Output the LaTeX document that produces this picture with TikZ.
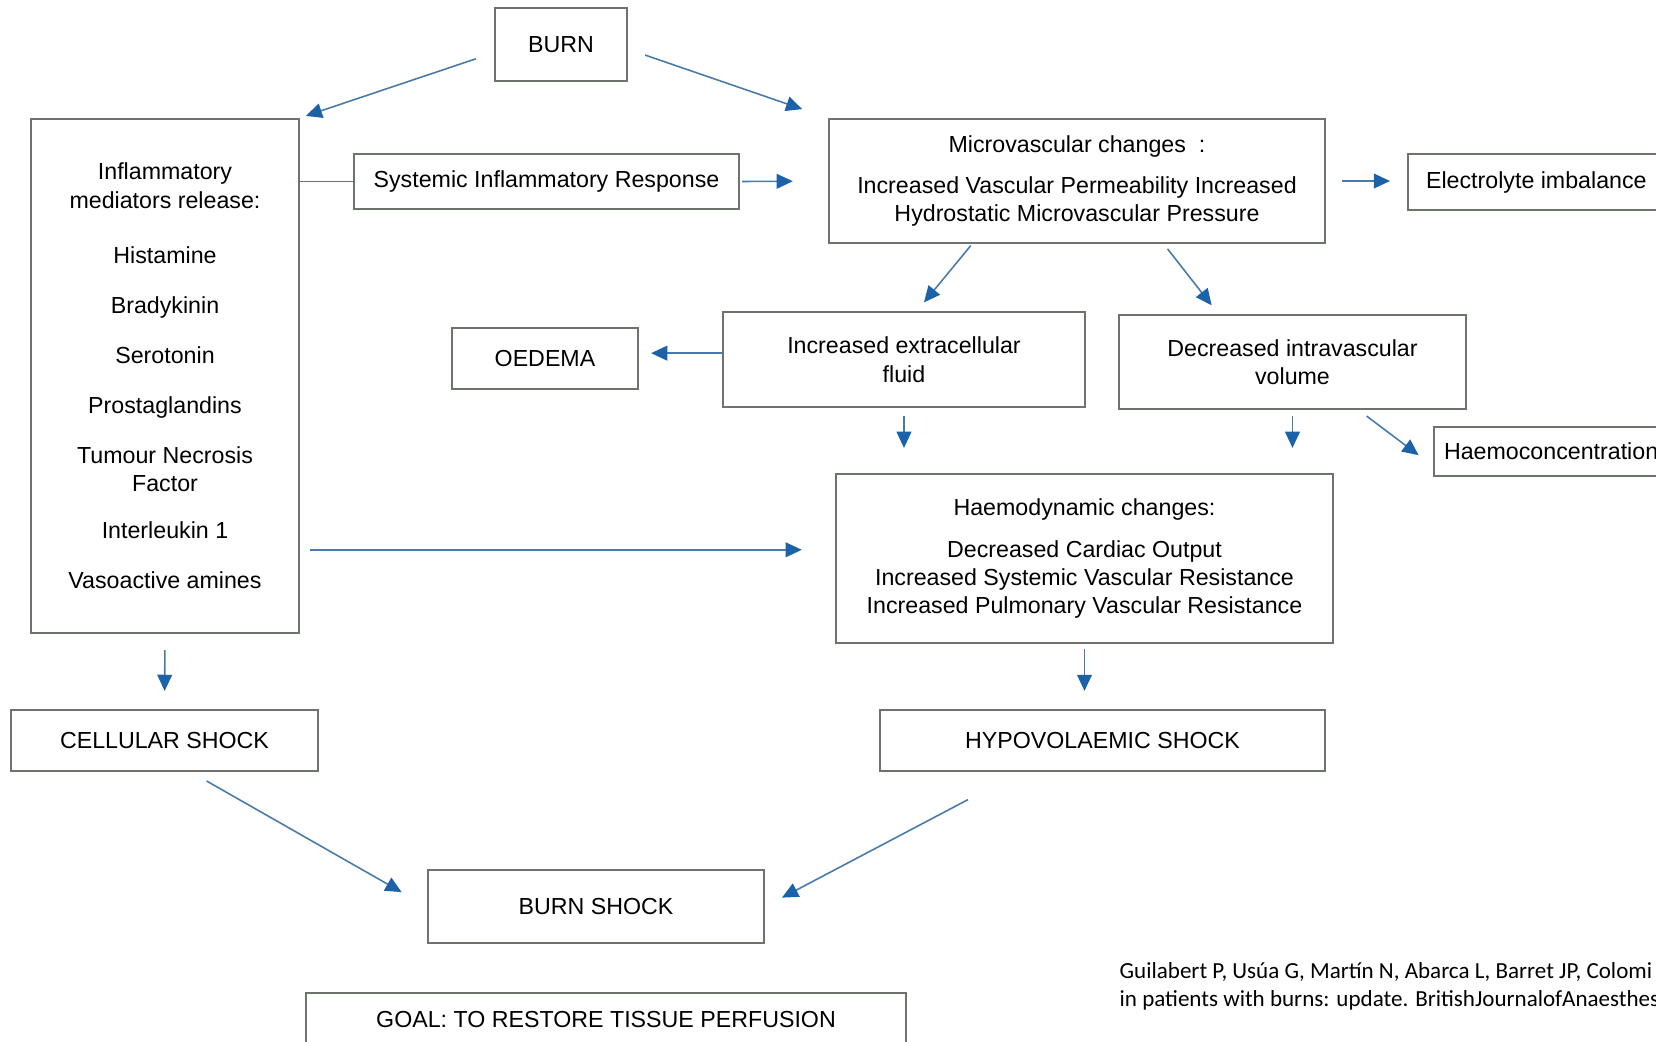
\documentclass[tikz,border=0pt]{standalone}
\usepackage{fontspec}
\setmainfont{Liberation Sans}
\newfontfamily\citefont{Carlito}
\usetikzlibrary{arrows.meta}

\definecolor{boxline}{RGB}{108,116,108}
\definecolor{arrline}{RGB}{72,122,170}
\definecolor{arrhead}{RGB}{28,98,168}

\begin{document}
\begin{tikzpicture}[x=0.01cm, y=-0.01cm,
    box/.style={draw=boxline, line width=0.6pt, fill=white, align=center, inner sep=0pt,
      font=\fontsize{6.6}{8.1}\selectfont},
    link/.style={draw=arrline, line width=0.45pt},
    arr/.style={link, -{Triangle[length=4.6pt, width=4.2pt, color=arrhead]}}]
			\useasboundingbox (0,0) rectangle (1656,1041);
			
			% Nodes
			\node[box, minimum width=1.32cm, minimum height=0.73cm] (burn) at (561,44.5) {BURN};
			\node[box, minimum width=2.68cm, minimum height=5.14cm] (infl) at (165,376) {Inflammatory\\mediators release:\\[0.265cm]Histamine\\[0.215cm]Bradykinin\\[0.215cm]Serotonin\\[0.215cm]Prostaglandins\\[0.215cm]Tumour Necrosis\\Factor\\[0.185cm]Interleukin 1\\[0.215cm]Vasoactive amines};
			\node[box, minimum width=3.85cm, minimum height=0.55cm] (sir) at (546.5,181.5) {Systemic Inflammatory Response};
			\node[box, minimum width=4.96cm, minimum height=1.24cm] (micro) at (1077,181) {Microvascular changes\ \ :\\[0.125cm]Increased Vascular Permeability Increased\\Hydrostatic Microvascular Pressure};
			\node[box, anchor=west, minimum height=0.56cm, inner xsep=0.18cm] (elec) at (1407,182) {Electrolyte imbalance};
			\node[box, minimum width=3.62cm, minimum height=0.95cm] (ecf) at (904,359.5) {Increased extracellular\\fluid};
			\node[box, minimum width=1.86cm, minimum height=0.61cm] (oedema) at (545,358.5) {OEDEMA};
			\node[box, minimum width=3.47cm, minimum height=0.94cm] (ivv) at (1292.5,362) {Decreased intravascular\\volume};
			\node[box, anchor=west, minimum height=0.49cm, inner xsep=0.10cm] (haemo) at (1433,451.5) {Haemoconcentration};
			\node[box, minimum width=4.97cm, minimum height=1.69cm] (hd) at (1084.5,558.5) {Haemodynamic changes:\\[0.135cm]Decreased Cardiac Output\\Increased Systemic Vascular Resistance\\Increased Pulmonary Vascular Resistance};
			\node[box, minimum width=3.07cm, minimum height=0.61cm] (cell) at (164.5,740.5) {CELLULAR SHOCK};
			\node[box, minimum width=4.45cm, minimum height=0.61cm] (hypo) at (1102.5,740.5) {HYPOVOLAEMIC SHOCK};
			\node[box, minimum width=3.36cm, minimum height=0.73cm] (bshock) at (596,906.5) {BURN SHOCK};
			\node[box, minimum width=6.00cm, minimum height=0.52cm] (goal) at (606,1019) {GOAL: TO RESTORE TISSUE PERFUSION};
			\node[anchor=west, align=left, inner sep=0pt, font=\citefont\fontsize{6.55}{7.85}\selectfont] (cite) at (1119,986.5) {Guilabert P, Usúa G, Martín N, Abarca L, Barret JP, Colomi\\in patients with burns: update. BritishJournalofAnaesthes};
			
			% Edges
			\draw[arr, shorten <=0.19cm, shorten >=0.06cm] (burn.187) -- (infl.north east);
			\draw[arr, shorten <=0.18cm, shorten >=0.27cm] (burn.356) -- (micro.north west);
			\draw[link] (sir.west -| infl.east) -- (sir.west);
			\draw[arr, shorten <=0.02cm, shorten >=0.35cm] (sir.east) -- (micro.west);
			\draw[arr, shorten <=0.16cm, shorten >=0.17cm] (micro.east) -- (micro.east -| elec.west);
			\draw[arr, shorten <=0.02cm, shorten >=0.11cm] (micro.211) -- (ecf.75);
			\draw[arr, shorten <=0.06cm, shorten >=0.11cm] (micro.324) -- (ivv.147);
			\draw[arr, shorten >=0.12cm] (ecf.178) -- (ecf.178 -| oedema.east);
			\draw[arr, shorten <=0.08cm, shorten >=0.25cm] (ecf.south) -- (ecf.south |- hd.north);
			\draw[arr, shorten <=0.06cm, shorten >=0.25cm] (ivv.south) -- (ivv.south |- hd.north);
			\draw[arr, shorten <=0.10cm, shorten >=0.18cm] (ivv.324) -- (haemo.187);
			\draw[arr, shorten <=0.10cm, shorten >=0.33cm] (infl.east |- hd.178) -- (hd.178);
			\draw[arr, shorten <=0.16cm, shorten >=0.18cm] (infl.south) -- (cell.north);
			\draw[arr, shorten <=0.05cm, shorten >=0.18cm] (hd.south) -- (hd.south |- hypo.north);
			\draw[arr, shorten <=0.18cm, shorten >=0.29cm] (cell.310) -- (bshock.west);
			\draw[arr, shorten <=0.59cm, shorten >=0.19cm] (hypo.201) -- (bshock.east);
		\end{tikzpicture}
\end{document}
